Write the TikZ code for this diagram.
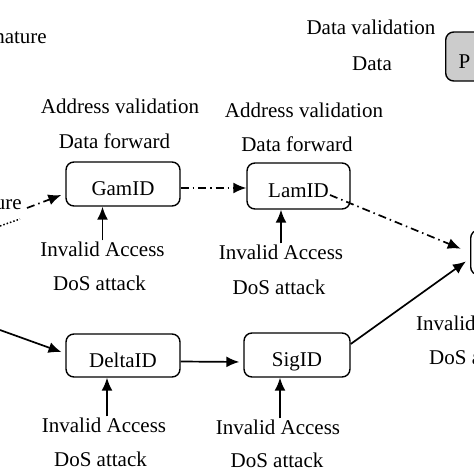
\documentclass[tikz,border=0pt]{standalone}
\usepackage{fontspec}
\setmainfont{Liberation Serif}
\usetikzlibrary{arrows.meta,calc}
\begin{document}
\begin{tikzpicture}[x=1pt,y=-1pt,
  font=\fontsize{21}{24}\selectfont,
  box/.style={draw,rounded corners=8pt,line width=1.4pt,minimum height=44pt,inner sep=0pt,text height=24pt,text depth=1pt},
  lbl/.style={inner sep=1pt},
  arr/.style={line width=1.7pt,-{Latex[length=13pt,width=11pt]}},
  dd/.style={arr,dash pattern=on 8pt off 4pt on 1.5pt off 4pt}]
\useasboundingbox (0,0) rectangle (474,474);
\fill[white] (0,0) rectangle (474,474);

% boxes
\node[box,minimum width=114pt] (gam) at (123,184) {GamID};
\node[box,minimum width=103pt,minimum height=46pt] (lam) at (298.5,186) {LamID};
\node[box,minimum width=114pt,minimum height=43pt] (delta) at (123,355.5) {DeltaID};
\node[box,minimum width=106pt] (sig) at (297,355) {SigID};
\node[box,minimum width=60pt,minimum height=45pt,anchor=west] (r) at (470,252.5) {};
\node[box,fill=gray!40,anchor=west,inner xsep=13pt,minimum height=49pt] (p) at (445,56.5) {P};

% texts
\node[lbl,anchor=east] (nat) at (48,38) {nature};
\node[lbl,anchor=east] (ure) at (23,205) {ure};
\node[lbl] (av1) at (120,106) {Address validation};
\node[lbl] (df1) at (114.5,141) {Data forward};
\node[lbl] (av2) at (304,110) {Address validation};
\node[lbl] (df2) at (297,144) {Data forward};
\node[lbl] (dv) at (371,27) {Data validation};
\node[lbl] (dt) at (372,64) {Data};
\node[lbl] (ia1) at (102.5,249) {Invalid Access};
\node[lbl] (da1) at (99.5,283) {DoS attack};
\node[lbl] (ia2) at (281,252) {Invalid Access};
\node[lbl] (da2) at (279,287) {DoS attack};
\node[lbl] (ia3) at (104,425) {Invalid Access};
\node[lbl] (da3) at (100.5,459) {DoS attack};
\node[lbl] (ia4) at (278,427) {Invalid Access};
\node[lbl] (da4) at (277,460) {DoS attack};
\node[lbl,anchor=west] (ia5) at (415,323) {Invalid Access};
\node[lbl,anchor=west] (da5) at (428,357) {DoS attack};

% free ends
\coordinate (din) at (0,330);
\coordinate (ls) at (330,195);
\coordinate (u1) at (0,226);
\coordinate (u2) at (20,219);

% connectors
\draw[dd] ($(gam.east)+(0,4)$) -- ($(lam.west)+(0,2)$);
\draw[dd,shorten >=10pt] (ls) -- (r.west);
\draw[dd] ($(ure.east)+(4,3)$) -- ($(gam.west)+(-4,11)$);
\draw[line width=1.5pt,dotted] (u1) -- (u2);
\draw[arr,shorten >=5pt] ($(sig.east)+(0,-11)$) -- ($(r.west)+(0,6)$);
\draw[arr,shorten >=4pt] (din) -- ($(delta.west)+(0,-2)$);
\draw[arr,shorten >=4pt] ($(delta.east)+(0,6)$) -- ($(sig.west)+(0,7)$);
\draw[arr] (ia1.north) -- (ia1.north |- gam.south);
\draw[arr] (ia2.north) -- (ia2.north |- lam.south);
\draw[arr] (ia3.north) ++(3,0) coordinate (a3) -- (a3 |- delta.south);
\draw[arr] (ia4.north) ++(2,0) coordinate (a4) -- (a4 |- sig.south);
\end{tikzpicture}
\end{document}
